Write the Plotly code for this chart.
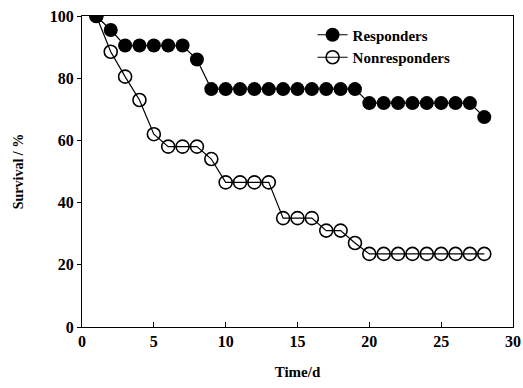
import plotly.graph_objects as go

days = list(range(1, 29))
responders = [100, 95.5, 90.5, 90.5, 90.5, 90.5, 90.5, 86, 76.5, 76.5,
              76.5, 76.5, 76.5, 76.5, 76.5, 76.5, 76.5, 76.5, 76.5, 72,
              72, 72, 72, 72, 72, 72, 72, 67.5]
nonresponders = [100, 88.5, 80.5, 73, 62, 58, 58, 58, 54, 46.5,
                 46.5, 46.5, 46.5, 35, 35, 35, 31, 31, 27, 23.5,
                 23.5, 23.5, 23.5, 23.5, 23.5, 23.5, 23.5, 23.5]
x_ticks = [0, 5, 10, 15, 20, 25, 30]
y_ticks = [0, 20, 40, 60, 80, 100]

font = "Liberation Serif"

fig = go.Figure()
fig.add_trace(go.Scatter(
    x=days, y=responders, name="<b>Responders</b>", mode="lines+markers",
    line=dict(color="black", width=1.2),
    marker=dict(symbol="circle", size=14, color="black"),
))
fig.add_trace(go.Scatter(
    x=days, y=nonresponders, name="<b>Nonresponders</b>", mode="lines+markers",
    line=dict(color="black", width=1.2),
    marker=dict(symbol="circle-open", size=13, color="black", line=dict(width=1.6)),
))

fig.update_layout(
    width=523, height=388,
    margin=dict(l=82, r=10, t=16, b=61),
    plot_bgcolor="white", paper_bgcolor="white",
    font=dict(family=font, size=15, color="black"),
    showlegend=True,
    legend=dict(x=0.535, y=0.992, xanchor="left", yanchor="top",
                bgcolor="rgba(0,0,0,0)", font=dict(family=font, size=15),
                tracegroupgap=0, itemwidth=30),
    xaxis=dict(range=[0, 30], tickvals=x_ticks, ticktext=[f"<b>{v}</b>" for v in x_ticks],
               showline=True, linecolor="black", linewidth=1, mirror=True,
               ticks="inside", ticklen=5, tickcolor="black", showgrid=False, zeroline=False,
               automargin=False, ticklabeloverflow="allow",
               title=dict(text="<b>Time/d</b>", font=dict(family=font, size=15), standoff=17),
               tickfont=dict(family=font, size=16)),
    yaxis=dict(range=[0, 100], tickvals=y_ticks, ticktext=[f"<b>{v}</b>" for v in y_ticks],
               showline=True, linecolor="black", linewidth=1, mirror=True,
               ticks="outside", ticklen=4, tickcolor="black", showgrid=False, zeroline=False,
               automargin=False,
               title=dict(text="<b>Survival / %</b>", font=dict(family=font, size=14), standoff=22),
               tickfont=dict(family=font, size=16)),
)

fig.write_html("out.html", config={"displayModeBar": False},
               post_script="document.body.style.margin='0';")
